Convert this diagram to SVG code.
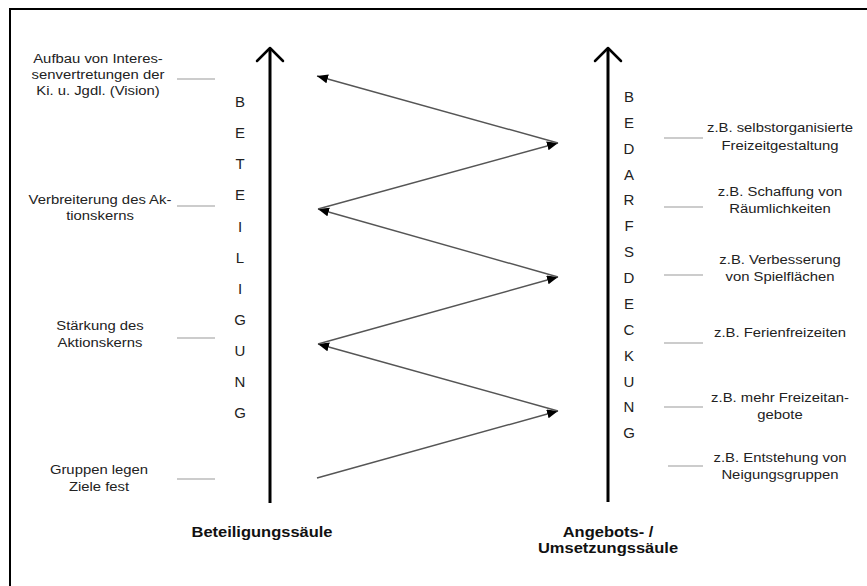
<svg xmlns="http://www.w3.org/2000/svg" width="867" height="586" viewBox="0 0 867 586">
  <style>
    .lbl { font-family: "Liberation Sans", Arial, sans-serif; font-size: 13.5px; fill: #222; text-anchor: middle; }
    .col { font-family: "Liberation Sans", Arial, sans-serif; font-size: 15px; fill: #222; text-anchor: middle; }
    .ttl { font-family: "Liberation Sans", Arial, sans-serif; font-size: 15px; font-weight: bold; fill: #111; text-anchor: middle; }
    .tick { stroke: #9a9a9a; stroke-width: 1.2; }
    .axis { stroke: #000; stroke-width: 3; fill: none; }
    .head { stroke: #000; stroke-width: 2.5; fill: none; stroke-linecap: round; stroke-linejoin: round; }
    .zig { stroke: #555; stroke-width: 1.4; marker-end: url(#tri); }
  </style>
  <defs>
    <marker id="tri" markerUnits="userSpaceOnUse" markerWidth="12" markerHeight="10" refX="11" refY="4.5" orient="auto">
      <path d="M0,0 L11,4.5 L0,9 z" fill="#000"/>
    </marker>
  </defs>

  <rect width="867" height="586" fill="#fff"/>
  <!-- frame (left and top edges) -->
  <path d="M10,586 V9 H867" fill="none" stroke="#000" stroke-width="2"/>

  <!-- participation pillar -->
  <g id="beteiligungssaeule">
    <line class="axis" x1="270" y1="503" x2="270" y2="49"/>
    <path class="head" d="M257,61 L270,48 L283,61"/>
    <g class="col">
      <text x="240" y="107">B</text>
      <text x="240" y="138">E</text>
      <text x="240" y="169">T</text>
      <text x="240" y="200">E</text>
      <text x="240" y="232">I</text>
      <text x="240" y="263">L</text>
      <text x="240" y="294">I</text>
      <text x="240" y="325">G</text>
      <text x="240" y="356">U</text>
      <text x="240" y="387">N</text>
      <text x="240" y="418">G</text>
    </g>
    <text class="ttl" transform="translate(262 0) scale(1.1 1)"><tspan x="0" y="537">Beteiligungssäule</tspan></text>
  </g>

  <!-- supply / implementation pillar -->
  <g id="angebotssaeule">
    <line class="axis" x1="608" y1="502" x2="608" y2="49"/>
    <path class="head" d="M595,61 L608,48 L621,61"/>
    <g class="col">
      <text x="629" y="102">B</text>
      <text x="629" y="128">E</text>
      <text x="629" y="154">D</text>
      <text x="629" y="180">A</text>
      <text x="629" y="205">R</text>
      <text x="629" y="231">F</text>
      <text x="629" y="257">S</text>
      <text x="629" y="283">D</text>
      <text x="629" y="309">E</text>
      <text x="629" y="335">C</text>
      <text x="629" y="361">K</text>
      <text x="629" y="387">U</text>
      <text x="629" y="412">N</text>
      <text x="629" y="438">G</text>
    </g>
    <text class="ttl" transform="translate(608 0) scale(1.1 1)"><tspan x="0" y="537">Angebots- /</tspan><tspan x="0" y="553">Umsetzungssäule</tspan></text>
  </g>

  <!-- participation stages -->
  <g id="stufe-vision">
    <line class="tick" x1="177" y1="79" x2="215" y2="79"/>
    <text class="lbl" transform="translate(98 0) scale(1.1 1)"><tspan x="0" y="63">Aufbau von Interes-</tspan><tspan x="0" y="79">senvertretungen der</tspan><tspan x="0" y="95">Ki. u. Jgdl. (Vision)</tspan></text>
  </g>
  <g id="stufe-verbreiterung">
    <line class="tick" x1="177" y1="206" x2="215" y2="206"/>
    <text class="lbl" transform="translate(100 0) scale(1.1 1)"><tspan x="0" y="204">Verbreiterung des Ak-</tspan><tspan x="0" y="220">tionskerns</tspan></text>
  </g>
  <g id="stufe-staerkung">
    <line class="tick" x1="177" y1="338" x2="215" y2="338"/>
    <text class="lbl" transform="translate(100 0) scale(1.1 1)"><tspan x="0" y="330">Stärkung des</tspan><tspan x="0" y="347">Aktionskerns</tspan></text>
  </g>
  <g id="stufe-ziele">
    <line class="tick" x1="177" y1="479" x2="215" y2="479"/>
    <text class="lbl" transform="translate(99 0) scale(1.1 1)"><tspan x="0" y="474">Gruppen legen</tspan><tspan x="0" y="491">Ziele fest</tspan></text>
  </g>

  <!-- offer examples -->
  <g id="bedarf-freizeitgestaltung">
    <line class="tick" x1="664" y1="138" x2="703" y2="138"/>
    <text class="lbl" transform="translate(780 0) scale(1.1 1)"><tspan x="0" y="132">z.B. selbstorganisierte</tspan><tspan x="0" y="150">Freizeitgestaltung</tspan></text>
  </g>
  <g id="bedarf-raeume">
    <line class="tick" x1="664" y1="207" x2="703" y2="207"/>
    <text class="lbl" transform="translate(780 0) scale(1.1 1)"><tspan x="0" y="196">z.B. Schaffung von</tspan><tspan x="0" y="213">Räumlichkeiten</tspan></text>
  </g>
  <g id="bedarf-spielflaechen">
    <line class="tick" x1="664" y1="275" x2="703" y2="275"/>
    <text class="lbl" transform="translate(780 0) scale(1.1 1)"><tspan x="0" y="264">z.B. Verbesserung</tspan><tspan x="0" y="281">von Spielflächen</tspan></text>
  </g>
  <g id="bedarf-ferien">
    <line class="tick" x1="664" y1="343" x2="703" y2="343"/>
    <text class="lbl" transform="translate(780 0) scale(1.1 1)"><tspan x="0" y="337">z.B. Ferienfreizeiten</tspan></text>
  </g>
  <g id="bedarf-angebote">
    <line class="tick" x1="664" y1="407" x2="703" y2="407"/>
    <text class="lbl" transform="translate(780 0) scale(1.1 1)"><tspan x="0" y="402">z.B. mehr Freizeitan-</tspan><tspan x="0" y="419">gebote</tspan></text>
  </g>
  <g id="bedarf-neigungsgruppen">
    <line class="tick" x1="668" y1="466" x2="703" y2="466"/>
    <text class="lbl" transform="translate(780 0) scale(1.1 1)"><tspan x="0" y="462">z.B. Entstehung von</tspan><tspan x="0" y="479">Neigungsgruppen</tspan></text>
  </g>

  <!-- zigzag between the pillars -->
  <g id="connectors">
    <line class="zig" x1="317" y1="478" x2="558" y2="411"/>
    <line class="zig" x1="558" y1="411" x2="318" y2="344"/>
    <line class="zig" x1="318" y1="344" x2="558" y2="277"/>
    <line class="zig" x1="558" y1="277" x2="318" y2="209"/>
    <line class="zig" x1="318" y1="209" x2="558" y2="143"/>
    <line class="zig" x1="558" y1="143" x2="317" y2="76"/>
  </g>
</svg>
